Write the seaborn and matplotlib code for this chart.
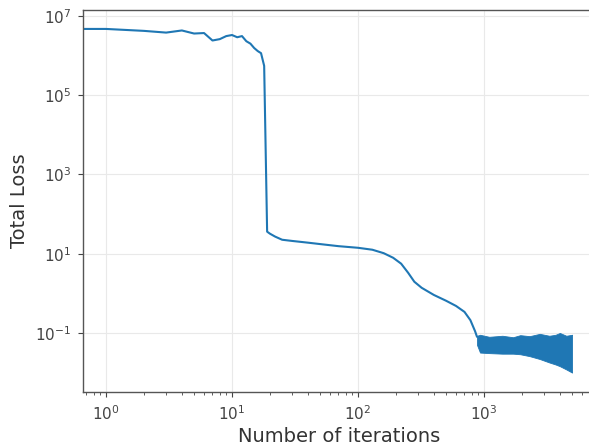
import numpy as np
import pandas as pd
import matplotlib
matplotlib.use("Agg")
import matplotlib.pyplot as plt
import seaborn as sns

# Main loss curve (iteration, total loss)
iterations = [0, 1, 2, 3, 4, 5, 6, 7, 8, 9, 10, 11, 12, 13, 14, 15, 16, 17, 18, 19,
              20, 22, 25, 30, 40, 50, 70, 100, 130, 160, 190, 220, 250, 280, 320,
              400, 500, 600, 700, 780, 850, 880]
loss = [4.8e6, 4.7e6, 4.2e6, 3.8e6, 4.3e6, 3.6e6, 3.7e6, 2.4e6, 2.6e6, 3.1e6, 3.3e6,
        2.9e6, 3.1e6, 2.3e6, 2.0e6, 1.55e6, 1.3e6, 1.15e6, 5.5e5, 36,
        32, 27, 22.5, 21, 19, 17.5, 15.5, 14.1, 12.6, 10.3, 7.9, 5.6, 3.3, 1.96, 1.38,
        0.91, 0.65, 0.48, 0.34, 0.21, 0.11, 0.08]

# Oscillating tail: envelope of the noisy band
band_iter = [880, 930, 1100, 1400, 1700, 1940, 2300, 2770, 3300, 3700, 4000, 4500, 5000]
band_upper = [0.085, 0.09, 0.08, 0.085, 0.078, 0.088, 0.083, 0.095, 0.085, 0.09, 0.1, 0.085, 0.09]
band_lower = [0.05, 0.032, 0.031, 0.030, 0.030, 0.029, 0.026, 0.022, 0.018, 0.016, 0.0145, 0.012, 0.010]

df = pd.DataFrame({"Number of iterations": iterations, "Total Loss": loss})

sns.set_style("ticks")
plt.rcParams["font.family"] = ["DejaVu Sans"]

fig = plt.figure(figsize=(5.89, 4.48), dpi=100)
ax = fig.add_axes([83 / 589, (448 - 392) / 448, (596 - 83) / 589, (392 - 10) / 448])

color = "#1f77b4"
sns.lineplot(data=df, x="Number of iterations", y="Total Loss", ax=ax,
             color=color, lw=1.5, estimator=None)
ax.fill_between(band_iter, band_lower, band_upper, color=color, lw=0.6, edgecolor=color)

ax.set_xscale("log")
ax.set_yscale("log")
ax.set_xlim(10 ** (-23 / 126), 10 ** (490 / 126))
ax.set_ylim(10 ** -2.49, 10 ** 7.15)

ax.grid(True, which="major", color="#e9e9e9", lw=0.8)
for s in ax.spines.values():
    s.set_color("#555555")
    s.set_linewidth(1.0)
ax.tick_params(axis="both", which="major", labelsize=11, colors="#444444",
               length=3.5, pad=5)
ax.tick_params(axis="both", which="minor", colors="#444444")
ax.set_xlabel("Number of iterations", fontsize=14, color="#333333", labelpad=3)
ax.set_ylabel("Total Loss", fontsize=14, color="#333333", labelpad=4)

fig.savefig("out.png", dpi=100)
